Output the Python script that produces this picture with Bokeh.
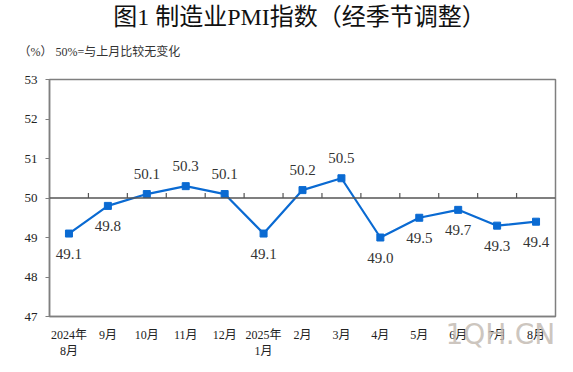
import math
from bokeh.plotting import figure
from bokeh.models import Range1d, FixedTicker, Span, Title, ColumnDataSource, LinearAxis
from bokeh.core.properties import value
from bokeh.embed import file_html
from bokeh.resources import INLINE

months = ["2024年\n8月", "9月", "10月", "11月", "12月", "2025年\n1月", "2月",
          "3月", "4月", "5月", "6月", "7月", "8月"]
pmi = [49.1, 49.8, 50.1, 50.3, 50.1, 49.1, 50.2, 50.5, 49.0, 49.5, 49.7, 49.3, 49.4]
label_above = [False, False, True, True, True, False, True, True, False, False, False, False, False]
y_ticks = [47, 48, 49, 50, 51, 52, 53]
title_text = "图1  制造业PMI指数（经季节调整）"
subtitle_text = "（%） 50%=与上月比较无变化"
watermark_text = "1QH.CN"
watermark_at = 11.2

SERIF = "'Liberation Serif', 'Times New Roman', 'Noto Sans CJK SC', serif"
AXIS_GRAY = "#7f7f7f"
BLUE = "#0a6ad2"

xs = list(range(len(months)))

p = figure(width=557, height=372, output_backend="svg", toolbar_location=None,
           x_range=Range1d(-0.5, len(months) - 0.5), y_range=Range1d(47, 53),
           min_border_left=49, min_border_right=2, min_border_top=79, min_border_bottom=56)
p.xgrid.grid_line_color = None
p.ygrid.grid_line_color = None
p.outline_line_color = AXIS_GRAY
p.outline_line_width = 1.5
p.background_fill_color = "white"
p.border_fill_color = "white"

# y axis
p.yaxis.ticker = FixedTicker(ticks=y_ticks)
p.yaxis.axis_line_color = AXIS_GRAY
p.yaxis.axis_line_width = 1.5
p.yaxis.major_tick_line_color = AXIS_GRAY
p.yaxis.major_tick_out = 4
p.yaxis.major_tick_in = 0
p.yaxis.minor_tick_line_color = None
p.yaxis.major_label_text_font = SERIF
p.yaxis.major_label_text_font_size = "13px"
p.yaxis.major_label_text_color = "#222222"
p.yaxis.major_label_standoff = 8

# x axis
p.xaxis.ticker = FixedTicker(ticks=xs)
p.xaxis.major_label_overrides = {i: m for i, m in enumerate(months)}
p.xaxis.axis_line_color = AXIS_GRAY
p.xaxis.axis_line_width = 1.5
p.xaxis.major_tick_line_color = None
p.xaxis.minor_tick_line_color = None
p.xaxis.major_label_text_font = SERIF
p.xaxis.major_label_text_font_size = "12px"
p.xaxis.major_label_text_color = "#222222"
p.xaxis.major_label_standoff = 5

# watermark as a second, bare axis pulled up over the month labels
wm = LinearAxis(ticker=FixedTicker(ticks=[watermark_at]),
                major_label_overrides={watermark_at: watermark_text},
                axis_line_color=None, major_tick_line_color=None, minor_tick_line_color=None,
                major_label_standoff=-50,
                major_label_text_font="'DejaVu Sans', sans-serif",
                major_label_text_font_size="28px",
                major_label_text_color="#c4bcb4", major_label_text_alpha=0.85)
p.add_layout(wm, "below")

# 50 reference line with upward boundary ticks
p.add_layout(Span(location=50, dimension="width", line_color="#555555", line_width=1.3))
bx = [i + 0.5 for i in xs[:-1]]
p.ray(x=bx, y=[50] * len(bx), length=5, length_units="screen", angle=math.pi / 2,
      line_color="#555555", line_width=1.2)

# series
p.line(xs, pmi, line_color=BLUE, line_width=2.2)
p.scatter(xs, pmi, marker="square", size=7, fill_color=BLUE, line_color=BLUE)

# data labels
src = ColumnDataSource(dict(
    x=xs, y=pmi, t=[f"{v:.1f}" for v in pmi],
    off=[-20 if a else 20 for a in label_above]))
p.text(x="x", y="y", text="t", y_offset="off", source=src, text_align="center",
       text_baseline="middle", text_font=value(SERIF), text_font_size="15px",
       text_color="#333333")

# titles
p.add_layout(Title(text=subtitle_text, align="left", offset=-31, standoff=42,
                   text_font=SERIF, text_font_size="12px", text_color="#333333",
                   text_font_style="normal"), "above")
p.add_layout(Title(text=title_text, align="center", offset=0, standoff=-16,
                   text_font=SERIF, text_font_size="24px", text_color="#111111",
                   text_font_style="normal"), "above")

open("out.html", "w").write(file_html(p, INLINE))
